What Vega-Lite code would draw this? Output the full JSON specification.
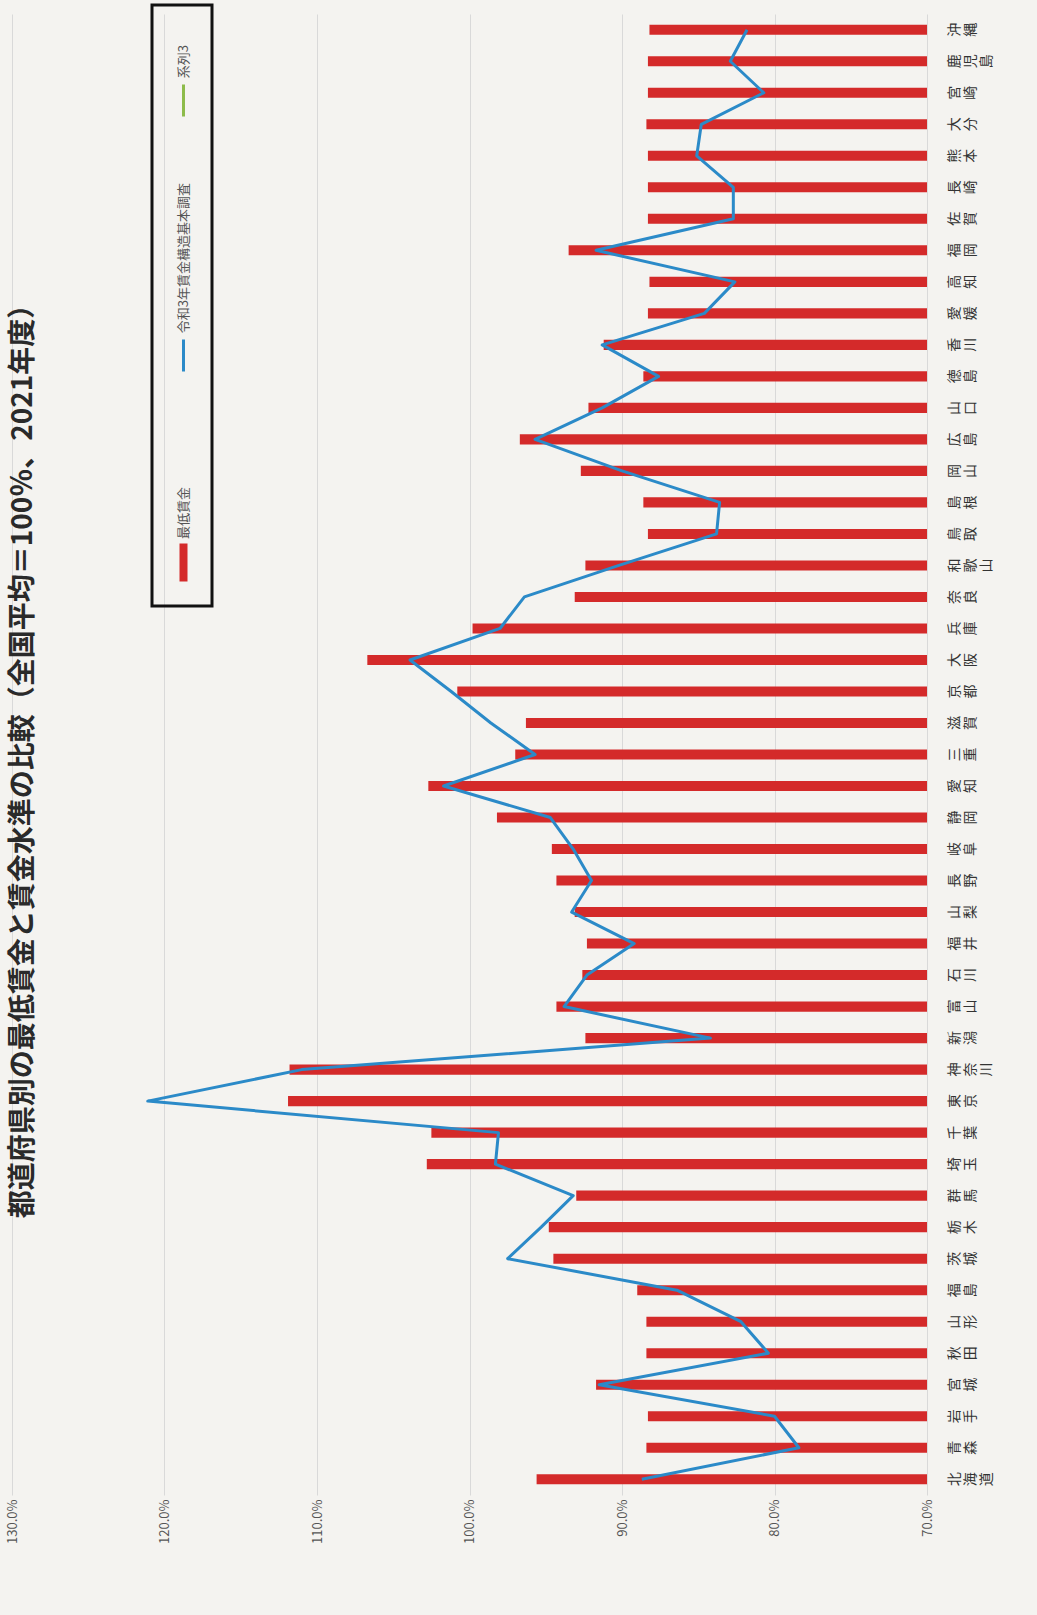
{
  "$schema": "https://vega.github.io/schema/vega-lite/v6.json",
  "width": 915,
  "height": 1481,
  "autosize": {"type": "none"},
  "padding": {"left": 12, "top": 14, "right": 110, "bottom": 120},
  "background": "#f4f3f0",
  "config": {
    "font": "Noto Sans CJK JP",
    "view": {"stroke": null},
    "legend": {"strokeWidth": 3}
  },
  "title": {
    "text": "都道府県別の最低賃金と賃金水準の比較（全国平均＝100％、2021年度）",
    "orient": "left",
    "anchor": "middle",
    "frame": "group",
    "offset": -32,
    "fontSize": 28,
    "fontWeight": "bold",
    "color": "#2a2a2a"
  },
  "data": {
    "values": [
      {"pref": "北海道", "min": 95.6, "survey": 88.7},
      {"pref": "青森", "min": 88.4, "survey": 78.4},
      {"pref": "岩手", "min": 88.3, "survey": 80.0},
      {"pref": "宮城", "min": 91.7, "survey": 91.5},
      {"pref": "秋田", "min": 88.4, "survey": 80.4},
      {"pref": "山形", "min": 88.4, "survey": 82.2},
      {"pref": "福島", "min": 89.0, "survey": 86.4},
      {"pref": "茨城", "min": 94.5, "survey": 97.5},
      {"pref": "栃木", "min": 94.8, "survey": 95.3},
      {"pref": "群馬", "min": 93.0, "survey": 93.2},
      {"pref": "埼玉", "min": 102.8, "survey": 98.3},
      {"pref": "千葉", "min": 102.5, "survey": 98.1},
      {"pref": "東京", "min": 111.9, "survey": 121.1},
      {"pref": "神奈川", "min": 111.8, "survey": 111.0},
      {"pref": "新潟", "min": 92.4, "survey": 84.2},
      {"pref": "富山", "min": 94.3, "survey": 93.8},
      {"pref": "石川", "min": 92.6, "survey": 92.3},
      {"pref": "福井", "min": 92.3, "survey": 89.2},
      {"pref": "山梨", "min": 93.1, "survey": 93.3},
      {"pref": "長野", "min": 94.3, "survey": 92.0},
      {"pref": "岐阜", "min": 94.6, "survey": 93.2},
      {"pref": "静岡", "min": 98.2, "survey": 94.7},
      {"pref": "愛知", "min": 102.7, "survey": 101.7},
      {"pref": "三重", "min": 97.0, "survey": 95.7},
      {"pref": "滋賀", "min": 96.3, "survey": 98.6},
      {"pref": "京都", "min": 100.8, "survey": 101.2},
      {"pref": "大阪", "min": 106.7, "survey": 103.9},
      {"pref": "兵庫", "min": 99.8, "survey": 98.0},
      {"pref": "奈良", "min": 93.1, "survey": 96.4},
      {"pref": "和歌山", "min": 92.4, "survey": 90.2},
      {"pref": "鳥取", "min": 88.3, "survey": 83.8},
      {"pref": "島根", "min": 88.6, "survey": 83.6},
      {"pref": "岡山", "min": 92.7, "survey": 90.0},
      {"pref": "広島", "min": 96.7, "survey": 95.7},
      {"pref": "山口", "min": 92.2, "survey": 91.3},
      {"pref": "徳島", "min": 88.6, "survey": 87.6},
      {"pref": "香川", "min": 91.2, "survey": 91.3},
      {"pref": "愛媛", "min": 88.3, "survey": 84.6},
      {"pref": "高知", "min": 88.2, "survey": 82.6},
      {"pref": "福岡", "min": 93.5, "survey": 91.7},
      {"pref": "佐賀", "min": 88.3, "survey": 82.7},
      {"pref": "長崎", "min": 88.3, "survey": 82.7},
      {"pref": "熊本", "min": 88.3, "survey": 85.1},
      {"pref": "大分", "min": 88.4, "survey": 84.8},
      {"pref": "宮崎", "min": 88.3, "survey": 80.7},
      {"pref": "鹿児島", "min": 88.3, "survey": 82.9},
      {"pref": "沖縄", "min": 88.2, "survey": 81.8}
    ]
  },
  "encoding": {
    "y": {
      "field": "pref",
      "type": "nominal",
      "sort": null,
      "scale": {"reverse": true, "paddingInner": 0.68, "paddingOuter": 0.34},
      "axis": {
        "orient": "right",
        "title": null,
        "domain": false,
        "ticks": false,
        "grid": false,
        "labelAngle": 270,
        "labelAlign": "center",
        "labelBaseline": "top",
        "labelPadding": 20,
        "labelFontSize": 14,
        "labelLineHeight": 16,
        "labelColor": "#333333",
        "labelOverlap": false,
        "labelExpr": "length(datum.label) == 2 ? [substring(datum.label, 0, 1), '', substring(datum.label, 1, 2)] : [substring(datum.label, 0, 1), substring(datum.label, 1, 2), substring(datum.label, 2, 3)]"
      }
    }
  },
  "layer": [
    {
      "mark": {"type": "bar", "color": "#d42a2a"},
      "encoding": {
        "x": {
          "field": "min",
          "type": "quantitative",
          "scale": {"domain": [70, 130], "reverse": true, "nice": false, "zero": false},
          "axis": {
            "title": null,
            "values": [70, 80, 90, 100, 110, 120, 130],
            "labelExpr": "format(datum.value, '.1f') + '%'",
            "labelAngle": 270,
            "grid": true,
            "gridColor": "#d9d9d9",
            "gridWidth": 1,
            "domain": false,
            "ticks": false,
            "labelPadding": 4,
            "labelFontSize": 13,
            "labelColor": "#555555"
          }
        },
        "x2": {"datum": 70},
        "color": {
          "datum": "最低賃金",
          "type": "nominal",
          "scale": {
            "domain": ["系列3", "令和3年賃金構造基本調査", "最低賃金"],
            "range": ["#8dbb4a", "#2b8ac8", "#d42a2a"]
          },
          "legend": {
            "title": null,
            "orient": "none",
            "legendX": 140,
            "legendY": -9,
            "direction": "vertical",
            "strokeColor": "#111111",
            "padding": 20,
            "rowPadding": 60,
            "symbolSize": 400,
            "symbolStrokeWidth": 3,
            "labelFontSize": 13,
            "labelLimit": 0,
            "labelOffset": -11.5,
            "labelColor": "#555555",
            "encoding": {
              "symbols": {
                "shape": {"condition": {"test": "datum.value === '最低賃金'", "value": "M-0.25,-1.75H0.25V1.75H-0.25Z"}, "value": "M0,-1.6V1.6"},
                "fill": {"condition": {"test": "datum.value === '最低賃金'", "value": "#d42a2a"}, "value": "transparent"},
                "stroke": {"condition": [{"test": "datum.value === '最低賃金'", "value": "transparent"}, {"test": "datum.value === '系列3'", "value": "#8dbb4a"}], "value": "#2b8ac8"},
                "y": {"condition": [{"test": "datum.value === '系列3'", "value": 75.5}, {"test": "datum.value === '最低賃金'", "value": 124.5}], "value": 172.5}
              },
              "labels": {
                "angle": {"value": -90},
                "align": {"value": "right"},
                "baseline": {"value": "middle"},
                "y": {"condition": [{"test": "datum.value === '系列3'", "value": 20}, {"test": "datum.value === '最低賃金'", "value": 49}], "value": 0}
              }
            }
          }
        }
      }
    },
    {
      "mark": {"type": "line", "strokeWidth": 3, "strokeJoin": "round"},
      "encoding": {
        "x": {"field": "survey", "type": "quantitative"},
        "color": {"datum": "令和3年賃金構造基本調査", "type": "nominal"},
        "order": {"value": null}
      }
    }
  ]
}
